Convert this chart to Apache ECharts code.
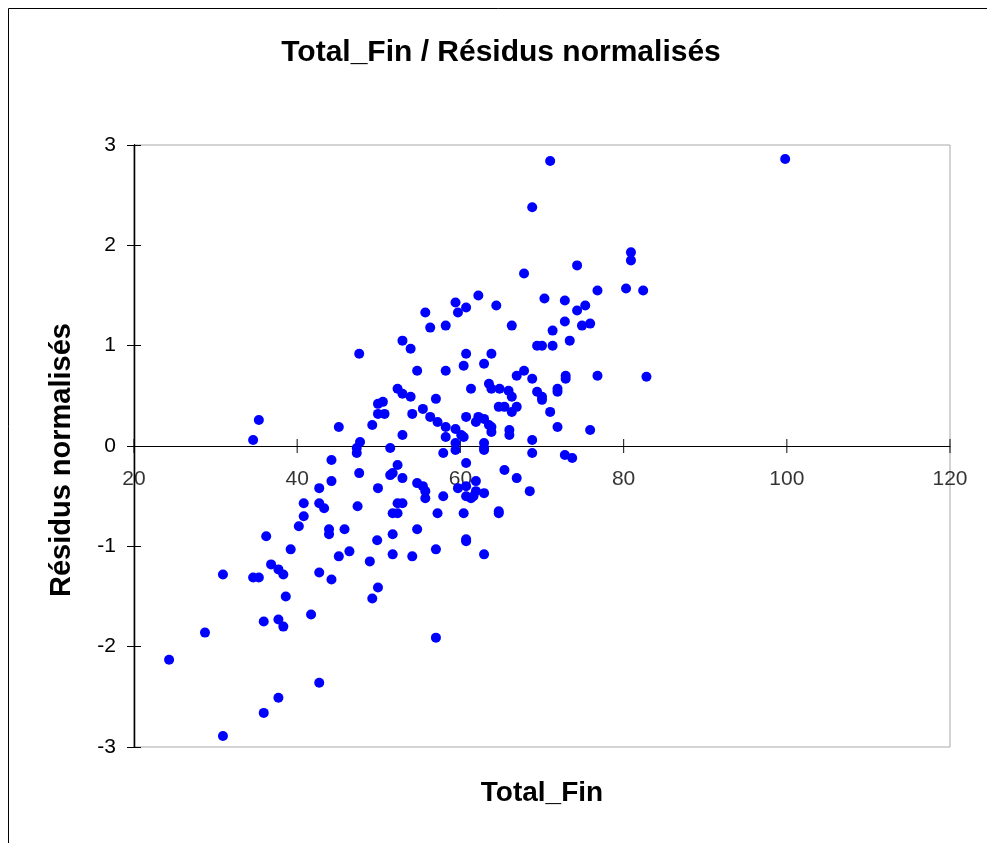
<!DOCTYPE html>
<html>
<head>
<meta charset="utf-8">
<script src="https://cdn.jsdelivr.net/npm/echarts@6/dist/echarts.min.js"></script>
<style>
html,body{margin:0;padding:0;background:#fff;}
#chart{width:987px;height:843px;}
</style>
</head>
<body>
<div id="chart"></div>
<script>
// Data
const chartTitle = 'Total_Fin / Résidus normalisés';
const xName = 'Total_Fin';
const yName = 'Résidus normalisés';
const xTicks = [20, 40, 60, 80, 100, 120];
const yTicks = [-3, -2, -1, 0, 1, 2, 3];

const totalFin = [
  47.6, 35.3, 34.6, 45.1, 49.2, 49.9, 50.5, 49.9, 50.7, 47.7,
  47.3, 47.3, 51.4, 44.2, 47.6, 44.2, 42.7, 49.9, 51.4, 40.8,
  42.7, 43.3, 47.4, 40.8, 40.2, 43.9, 43.9, 45.8, 36.2, 49.8,
  39.2, 46.4, 45.1, 48.9, 36.8, 37.7, 38.3, 30.9, 34.6, 35.3,
  42.7, 44.2, 49.9, 49.2, 38.6, 35.9, 37.7, 38.3, 41.7, 28.7,
  24.3, 42.7, 37.7, 35.9, 30.9, 56.3, 58.2, 66.3, 72.8, 74.9,
  75.9, 52.9, 53.9, 71.3, 73.4, 69.4, 70.0, 71.3, 60.7, 63.8,
  60.4, 62.9, 54.7, 58.2, 66.9, 67.8, 68.8, 72.9, 72.9, 76.8,
  52.3, 52.9, 53.9, 61.3, 63.5, 63.8, 64.8, 65.9, 66.3, 69.4,
  70.0, 70.0, 71.9, 71.9, 57.0, 55.4, 54.1, 56.3, 57.2, 58.2,
  59.4, 60.1, 58.2, 60.4, 60.7, 62.2, 61.9, 62.9, 63.5, 63.8,
  63.8, 64.7, 65.4, 66.3, 66.9, 66.0, 66.0, 71.0, 71.9, 75.9,
  52.9, 68.8, 68.8, 62.9, 62.9, 62.9, 59.4, 59.4, 57.9, 72.8,
  73.7, 60.7, 52.3, 51.7, 52.9, 65.4, 66.9, 54.7, 55.4, 55.7,
  55.7, 57.9, 59.7, 60.7, 61.9, 61.9, 62.9, 61.6, 61.3, 60.7,
  68.5, 52.3, 52.9, 51.7, 52.3, 57.2, 60.4, 64.7, 64.7, 51.7,
  54.7, 60.7, 51.7, 54.1, 57.0, 60.7, 62.9, 57.0, 71.0, 68.8,
  67.8, 74.3, 76.8, 62.2, 70.3, 72.8, 74.3, 75.3, 59.4, 60.7,
  59.7, 55.7, 64.4, 99.8, 80.9, 80.9, 80.3, 82.4, 82.8
];
const residus = [
  0.92, 0.26, 0.06, 0.19, 0.21, 0.42, 0.44, 0.32, 0.32, 0.04,
  -0.02, -0.07, -0.02, -0.14, -0.27, -0.35, -0.42, -0.42, -0.29, -0.57,
  -0.57, -0.62, -0.60, -0.70, -0.80, -0.83, -0.88, -0.83, -0.90, -0.94,
  -1.03, -1.05, -1.10, -1.15, -1.18, -1.23, -1.28, -1.28, -1.31, -1.31,
  -1.26, -1.33, -1.41, -1.52, -1.50, -1.75, -1.73, -1.80, -1.68, -1.86,
  -2.13, -2.36, -2.51, -2.66, -2.89, 1.18, 1.20, 1.20, 1.24, 1.20,
  1.22, 1.05, 0.97, 1.15, 1.05, 1.00, 1.00, 1.00, 0.92, 0.92,
  0.80, 0.82, 0.75, 0.75, 0.70, 0.75, 0.67, 0.70, 0.67, 0.70,
  0.57, 0.52, 0.49, 0.57, 0.62, 0.57, 0.57, 0.55, 0.49, 0.54,
  0.49, 0.46, 0.57, 0.54, 0.47, 0.37, 0.32, 0.29, 0.24, 0.19,
  0.17, 0.11, 0.09, 0.09, 0.29, 0.29, 0.24, 0.27, 0.21, 0.19,
  0.14, 0.39, 0.39, 0.34, 0.39, 0.16, 0.11, 0.34, 0.19, 0.16,
  0.11, 0.06, -0.07, 0.03, -0.02, -0.04, 0.03, -0.04, -0.07, -0.09,
  -0.12, -0.17, -0.19, -0.27, -0.32, -0.24, -0.32, -0.37, -0.40, -0.45,
  -0.52, -0.50, -0.42, -0.40, -0.35, -0.45, -0.47, -0.50, -0.52, -0.50,
  -0.45, -0.57, -0.57, -0.67, -0.67, -0.67, -0.67, -0.65, -0.67, -0.88,
  -0.83, -0.93, -1.08, -1.10, -1.03, -0.95, -1.08, -1.91, 2.84, 2.38,
  1.72, 1.80, 1.55, 1.50, 1.47, 1.45, 1.35, 1.40, 1.43, 1.38,
  1.33, 1.33, 1.40, 2.86, 1.93, 1.85, 1.57, 1.55, 0.69
];

const FONT = '"Liberation Sans", Arial, sans-serif';
const points = totalFin.map((x, i) => [x, residus[i]]);
const xTickMarks = xTicks.map(t => [t, 0]);
const xMin = xTicks[0], xMax = xTicks[xTicks.length - 1], xStep = xTicks[1] - xTicks[0];
const yMin = yTicks[0], yMax = yTicks[yTicks.length - 1], yStep = yTicks[1] - yTicks[0];

const chart = echarts.init(document.getElementById('chart'), null, {renderer: 'canvas'});
chart.setOption({
  animation: false,
  backgroundColor: '#ffffff',
  title: [{
    text: chartTitle,
    left: 501,
    top: 38,
    padding: 0,
    textAlign: 'center',
    textStyle: {fontFamily: FONT, fontSize: 30, fontWeight: 'bold', color: '#000'}
  }, {
    text: xName,
    left: 542,
    top: 779,
    padding: 0,
    textAlign: 'center',
    textStyle: {fontFamily: FONT, fontSize: 28, fontWeight: 'bold', color: '#000'}
  }],
  graphic: [{
    type: 'rect',
    shape: {x: 8.5, y: 8.5, width: 1000, height: 900},
    style: {fill: 'none', stroke: '#000', lineWidth: 1},
    silent: true,
    z: -1
  }],
  grid: {
    left: 134, right: 37, top: 145, bottom: 96,
    outerBoundsMode: 'none',
    containLabel: false,
    show: true, borderColor: '#a8a8a8', borderWidth: 1, backgroundColor: 'transparent'
  },
  xAxis: {
    type: 'value', min: xMin, max: xMax, interval: xStep, position: 'bottom',
    axisLine: {onZero: true, lineStyle: {color: '#000', width: 1}},
    axisTick: {show: false},
    axisLabel: {show: false},
    splitLine: {show: false}
  },
  yAxis: [{
    type: 'value', min: yMin, max: yMax, interval: yStep, position: 'left',
    axisLine: {show: true, onZero: false, lineStyle: {color: '#000', width: 1.3}},
    axisTick: {show: true, length: 7, lineStyle: {color: '#000'}},
    axisLabel: {fontFamily: FONT, fontSize: 21, color: '#000', margin: 18},
    splitLine: {show: false},
    name: yName, nameLocation: 'middle', nameGap: 58, nameRotate: 90,
    nameTextStyle: {fontFamily: FONT, fontSize: 29, fontWeight: 'bold', color: '#000', padding: [0, 28, 0, 0]}
  }, {
    type: 'value', min: yMin, max: yMax, interval: yStep, position: 'left',
    axisLine: {show: true, onZero: false, lineStyle: {color: '#000', width: 1.3}},
    axisTick: {show: true, inside: true, length: 7, lineStyle: {color: '#000'}},
    axisLabel: {show: false},
    splitLine: {show: false}
  }],
  series: [{
    // tick marks and tick labels of the x axis, which crosses at y = 0
    name: 'xTicks',
    type: 'scatter',
    xAxisIndex: 0, yAxisIndex: 0,
    data: xTickMarks,
    symbol: 'rect',
    symbolSize: [1.2, 14],
    itemStyle: {color: '#000'},
    label: {
      show: true,
      position: 'bottom',
      distance: 16,
      formatter: p => String(p.value[0]),
      fontFamily: FONT, fontSize: 21, color: '#000'
    },
    labelLayout: {hideOverlap: false},
    silent: true,
    z: 1
  }, {
    type: 'scatter',
    xAxisIndex: 0, yAxisIndex: 0,
    data: points,
    symbol: 'circle',
    symbolSize: 10,
    itemStyle: {color: '#0000ff', opacity: 1},
    emphasis: {disabled: true},
    z: 3
  }]
});
</script>
</body>
</html>
